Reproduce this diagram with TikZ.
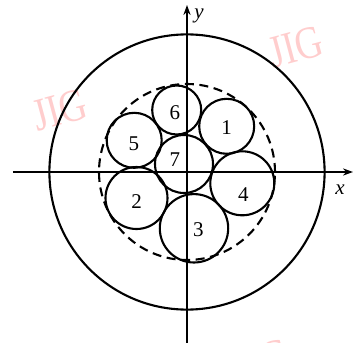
\documentclass[tikz,border=0pt]{standalone}
\usepackage{fontspec}
\setmainfont{Liberation Serif}
\usetikzlibrary{arrows.meta}
\definecolor{wm}{RGB}{255,205,205}
\begin{document}
\begin{tikzpicture}[x=0.5pt,y=0.5pt,
  wire/.style={line width=1.05pt},
  axis/.style={line width=0.75pt,-{Stealth[length=5pt,width=3.6pt]}},
  num/.style={font=\fontsize{10.5}{12}\selectfont,inner sep=0pt},
  wmark/.style={text=wm,font=\fontsize{23}{25}\selectfont,rotate=15,xscale=0.82,inner sep=0pt}]
\useasboundingbox (-187,-171) rectangle (167,172);
% watermarks
\node[wmark] (w1) at (-127,62) {JIG};
\node[wmark] (w2) at (109,125) {JIG};
\node[wmark] (w3) at (75,-188) {JIG};
% axes
\coordinate (xl) at (-174,0);
\coordinate (xr) at (166,0);
\coordinate (yb) at (0,-171);
\coordinate (yt) at (0,167);
\draw[axis] (xl) -- (xr);
\draw[axis] (yb) -- (yt);
\node[font=\itshape\fontsize{10.5}{12}\selectfont] (xlab) at (153,-18) {x};
\node[font=\itshape\fontsize{10.5}{12}\selectfont] (ylab) at (12,156) {y};
% outer and dashed circles
\coordinate (O) at (0,0);
\draw[wire] (O) circle[radius=137.6];
\draw[wire,dash pattern=on 4.5pt off 2.8pt] (O) circle[radius=88];
% small circles
\coordinate (c1) at (39.7,45.7);
\coordinate (c2) at (-50.5,-26);
\coordinate (c3) at (7,-56.3);
\coordinate (c4) at (55.3,-11.3);
\coordinate (c5) at (-52.8,31.7);
\coordinate (c6) at (-10.3,62);
\coordinate (c7) at (-3,8);
\draw[wire] (c1) circle[radius=27.5];
\draw[wire] (c2) circle[radius=31];
\draw[wire] (c3) circle[radius=34.2];
\draw[wire] (c4) circle[radius=32];
\draw[wire] (c5) circle[radius=27.5];
\draw[wire] (c6) circle[radius=24.5];
\draw[wire] (c7) circle[radius=29];
% labels
\node[num] (n1) at (39.7,44.7) {1};
\node[num] (n2) at (-50.3,-29.7) {2};
\node[num] (n3) at (11.3,-58) {3};
\node[num] (n4) at (56.3,-23) {4};
\node[num] (n5) at (-53,28) {5};
\node[num] (n6) at (-12,59.3) {6};
\node[num] (n7) at (-12,12) {7};
\end{tikzpicture}
\end{document}
